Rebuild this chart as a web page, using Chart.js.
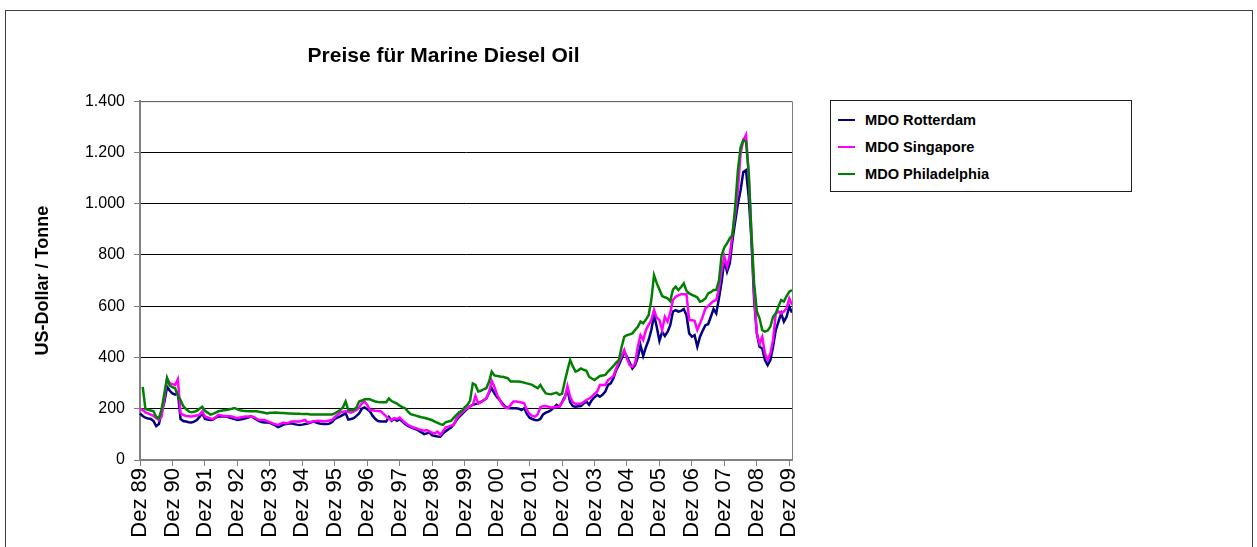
<!DOCTYPE html>
<html lang="de">
<head>
<meta charset="utf-8">
<title>Preise für Marine Diesel Oil</title>
<script src="https://cdn.jsdelivr.net/npm/chart.js@4.4.1/dist/chart.umd.min.js"></script>
<style>
  body { margin: 0; background: #fff; }
  #rahmen { position: relative; width: 1257px; height: 547px; overflow: hidden; background: #fff; }
  #linie { position: absolute; left: 5px; top: 10px; width: 1248px; height: 600px; border: 1px solid #404040; box-sizing: border-box; }
  #grafica { position: absolute; left: 0; top: 0; }
  #legende {
    position: absolute; left: 830px; top: 100px; width: 302px; height: 92px;
    border: 1px solid #202020; box-sizing: border-box; background: #fff;
    font-family: "Liberation Sans", Arial, sans-serif; font-weight: bold; font-size: 14.6px; color: #000;
    padding-top: 5px;
  }
  .eintrag { height: 27px; display: flex; align-items: center; }
  .strich { width: 17px; height: 2px; margin-left: 7px; margin-right: 10px; }
</style>
</head>
<body>
<div id="rahmen">
  <div id="linie"></div>
  <canvas id="grafica" width="857" height="547"></canvas>
  <div id="legende"></div>
</div>
<script>
// Monatswerte Dez 89 bis Jan 10, US-Dollar je Tonne
const monate = ['Jan', 'Feb', 'Mrz', 'Apr', 'Mai', 'Jun', 'Jul', 'Aug', 'Sep', 'Okt', 'Nov', 'Dez'];
const kategorien = [];
for (let i = 0; i < 242; i++) {
    const m = (11 + i) % 12;
    const j = (89 + Math.floor((11 + i) / 12)) % 100;
    kategorien.push(monate[m] + ' ' + String(j).padStart(2, '0'));
}

const rotterdam = [
    182, 172, 165, 162, 160, 152, 132, 140, 190, 225, 286, 270,
    260, 255, 263, 160, 152, 150, 147, 146, 150, 156, 168, 182,
    160, 158, 156, 158, 165, 170, 170, 170, 170, 166, 163, 160,
    156, 158, 160, 163, 166, 170, 165, 158, 152, 148, 146, 146,
    145, 140, 135, 128, 132, 138, 140, 142, 143, 140, 138, 137,
    138, 140, 142, 146, 150, 147, 143, 141, 140, 140, 142, 148,
    160, 165, 170, 176, 182, 158, 160, 163, 172, 182, 200, 205,
    198, 190, 172, 160, 152, 150, 150, 150, 168, 153, 160, 153,
    159, 150, 140, 133, 128, 124, 120, 114, 108, 101, 104, 107,
    96, 94, 92, 91, 104, 112, 120, 127, 140, 156, 168, 179,
    190, 200, 210, 215, 218, 221, 227, 232, 240, 262, 280, 260,
    245, 234, 220, 208, 204, 202, 202, 202, 200, 195, 202, 180,
    165, 160, 156, 155, 160, 178, 185, 189, 195, 205, 215, 208,
    225, 247, 273, 225, 210, 208, 210, 211, 220, 228, 215, 234,
    245, 254, 247, 255, 267, 293, 299, 319, 351, 370, 395, 422,
    403, 380, 357, 370, 400, 448, 406, 440, 468, 507, 565, 520,
    465, 500, 484, 500, 526, 579, 585, 579, 582, 589, 565, 494,
    481, 487, 442, 481, 505, 526, 530, 559, 589, 572, 631, 696,
    780, 735, 767, 858, 930, 1000, 1053, 1124, 1131, 1027, 858, 624,
    494, 442, 435, 390, 370, 390, 442, 507, 540, 572, 540, 559,
    598, 575
];

const singapore = [
    200, 195, 186, 182, 177, 172, 164, 156, 170, 240, 318, 300,
    296, 293, 315, 182, 176, 172, 171, 170, 172, 174, 176, 190,
    170, 166, 162, 160, 168, 176, 174, 172, 172, 171, 170, 166,
    163, 166, 168, 170, 170, 170, 168, 162, 156, 156, 156, 152,
    148, 143, 140, 137, 142, 146, 143, 146, 150, 150, 150, 150,
    153, 156, 146, 148, 150, 152, 153, 152, 150, 152, 154, 156,
    168, 175, 185, 188, 190, 188, 185, 190, 195, 205, 221, 228,
    215, 195, 194, 192, 191, 190, 180, 170, 160, 156, 163, 160,
    166, 155, 145, 137, 132, 127, 124, 120, 117, 114, 117, 112,
    106, 104, 111, 98, 112, 127, 130, 134, 137, 163, 175, 185,
    195, 202, 210, 215, 250, 221, 225, 234, 240, 265, 309, 286,
    254, 235, 215, 205, 202, 215, 228, 228, 226, 224, 221, 195,
    180, 172, 169, 178, 206, 210, 211, 208, 205, 206, 207, 208,
    225, 241, 289, 247, 225, 219, 219, 219, 226, 234, 240, 247,
    258, 267, 293, 293, 293, 312, 319, 328, 357, 383, 405, 429,
    396, 370, 364, 377, 442, 487, 468, 507, 527, 546, 585, 555,
    546, 507, 559, 540, 575, 624, 637, 642, 647, 647, 647, 546,
    545, 543, 507, 533, 560, 592, 600, 611, 620, 624, 670, 741,
    793, 754, 800, 884, 960, 1053, 1196, 1248, 1268, 1118, 884, 650,
    494, 455, 481, 416, 390, 416, 468, 572, 579, 572, 579, 592,
    631, 605
];

const philadelphia = [
    null, 285, 199, 196, 193, 190, 168, 163, 199, 260, 320, 290,
    284, 280, 250, 234, 210, 199, 190, 186, 188, 192, 200, 208,
    192, 185, 177, 180, 185, 190, 192, 194, 195, 198, 200, 203,
    198, 194, 192, 191, 190, 190, 190, 190, 188, 186, 184, 182,
    184, 184, 185, 184, 183, 183, 182, 181, 181, 180, 180, 180,
    179, 179, 179, 178, 178, 178, 178, 178, 178, 178, 178, 178,
    182, 188, 195, 205, 228, 195, 195, 195, 205, 228, 232, 237,
    237, 237, 232, 228, 226, 225, 225, 225, 240, 230, 225, 220,
    212, 206, 202, 190, 179, 176, 173, 170, 167, 165, 162, 159,
    155, 150, 145, 140, 137, 148, 150, 153, 165, 176, 186, 192,
    205, 215, 231, 299, 293, 267, 270, 276, 280, 305, 345, 330,
    328, 326, 325, 322, 319, 306, 306, 306, 306, 304, 302, 299,
    296, 293, 286, 280, 293, 275, 260, 258, 257, 260, 263, 254,
    258, 306, 350, 390, 365, 345, 350, 357, 352, 348, 325, 318,
    312, 320, 328, 330, 332, 345, 356, 367, 380, 390, 440, 481,
    487, 490, 494, 507, 520, 540, 533, 548, 565, 624, 721, 690,
    665, 640, 635, 631, 620, 665, 676, 663, 675, 689, 660, 650,
    644, 640, 634, 618, 622, 630, 650, 655, 663, 663, 700, 800,
    830, 845, 865, 878, 990, 1130, 1220, 1248, 1242, 1118, 884, 689,
    580, 553, 507, 501, 505, 520, 559, 572, 600, 624, 618, 640,
    657, 663
];

const serien = ['MDO Rotterdam', 'MDO Singapore', 'MDO Philadelphia'];
const farben = ['#000080', '#ff00ff', '#008000'];

const schrift = '"Liberation Sans", Arial, sans-serif';

function tausender(v) {
    return String(v).replace(/\B(?=(\d{3})+(?!\d))/g, '.');
}

// Rand der Zeichenfläche oben und rechts in Grau
const plotRahmen = {
    id: 'plotRahmen',
    afterDatasetsDraw(chart) {
        const { ctx, chartArea: a } = chart;
        ctx.save();
        ctx.strokeStyle = '#808080';
        ctx.lineWidth = 1;
        ctx.beginPath();
        ctx.moveTo(a.left, a.top + 0.5);
        ctx.lineTo(a.right + 0.5, a.top + 0.5);
        ctx.lineTo(a.right + 0.5, a.bottom);
        ctx.stroke();
        ctx.restore();
    }
};

const datos = [rotterdam, singapore, philadelphia];

const grafica = new Chart(document.getElementById('grafica').getContext('2d'), {
    type: 'line',
    data: {
        labels: kategorien,
        datasets: serien.map((s, i) => ({
            label: s,
            data: datos[i],
            borderColor: farben[i],
            backgroundColor: farben[i],
            borderWidth: 2.5,
            pointRadius: 0,
            tension: 0,
            fill: false,
            order: 3 - i
        }))
    },
    options: {
        responsive: false,
        animation: false,
        devicePixelRatio: 1,
        layout: { padding: { left: 30, right: 0, top: 0, bottom: 0 } },
        plugins: {
            legend: { display: false },
            tooltip: { enabled: false },
            title: {
                display: true,
                text: 'Preise für Marine Diesel Oil',
                color: '#000',
                font: { family: schrift, size: 21, weight: 'bold' },
                padding: { top: 44, bottom: 32 }
            }
        },
        scales: {
            x: {
                type: 'category',
                offset: false,
                afterFit(scale) { scale.height = 87; },
                border: { color: '#808080', width: 2 },
                grid: { drawOnChartArea: false, drawTicks: true, tickLength: 6, color: '#808080' },
                ticks: {
                    autoSkip: false,
                    maxRotation: 90,
                    minRotation: 90,
                    padding: 2,
                    color: '#000',
                    font: { family: schrift, size: 22 },
                    callback: (v, i) => (i % 12 === 0 ? kategorien[i] : null)
                }
            },
            y: {
                min: 0,
                max: 1400,
                afterFit(scale) { scale.width = 110; },
                border: { color: '#808080', width: 2 },
                grid: { color: '#000', lineWidth: 1, tickLength: 6, tickColor: '#808080' },
                ticks: {
                    stepSize: 200,
                    padding: 9,
                    color: '#000',
                    font: { family: schrift, size: 16 },
                    callback: v => tausender(v)
                },
                title: {
                    display: true,
                    text: 'US-Dollar / Tonne',
                    color: '#000',
                    font: { family: schrift, size: 18, weight: 'bold' },
                    padding: { top: 2, bottom: 0 }
                }
            },
            // leere Achse rechts, hält Platz zwischen Diagramm und Legende frei
            rechts: {
                type: 'linear',
                position: 'right',
                afterFit(scale) { scale.width = 65; },
                grid: { display: false, drawTicks: false },
                border: { display: false },
                ticks: { display: false }
            }
        }
    },
    plugins: [plotRahmen]
});

// Legende als Kasten rechts neben dem Diagramm
const legende = document.getElementById('legende');
grafica.data.datasets.forEach(ds => {
    const fila = document.createElement('div');
    fila.className = 'eintrag';
    const strich = document.createElement('span');
    strich.className = 'strich';
    strich.style.background = ds.borderColor;
    const text = document.createElement('span');
    text.textContent = ds.label;
    fila.appendChild(strich);
    fila.appendChild(text);
    legende.appendChild(fila);
});
</script>
</body>
</html>
